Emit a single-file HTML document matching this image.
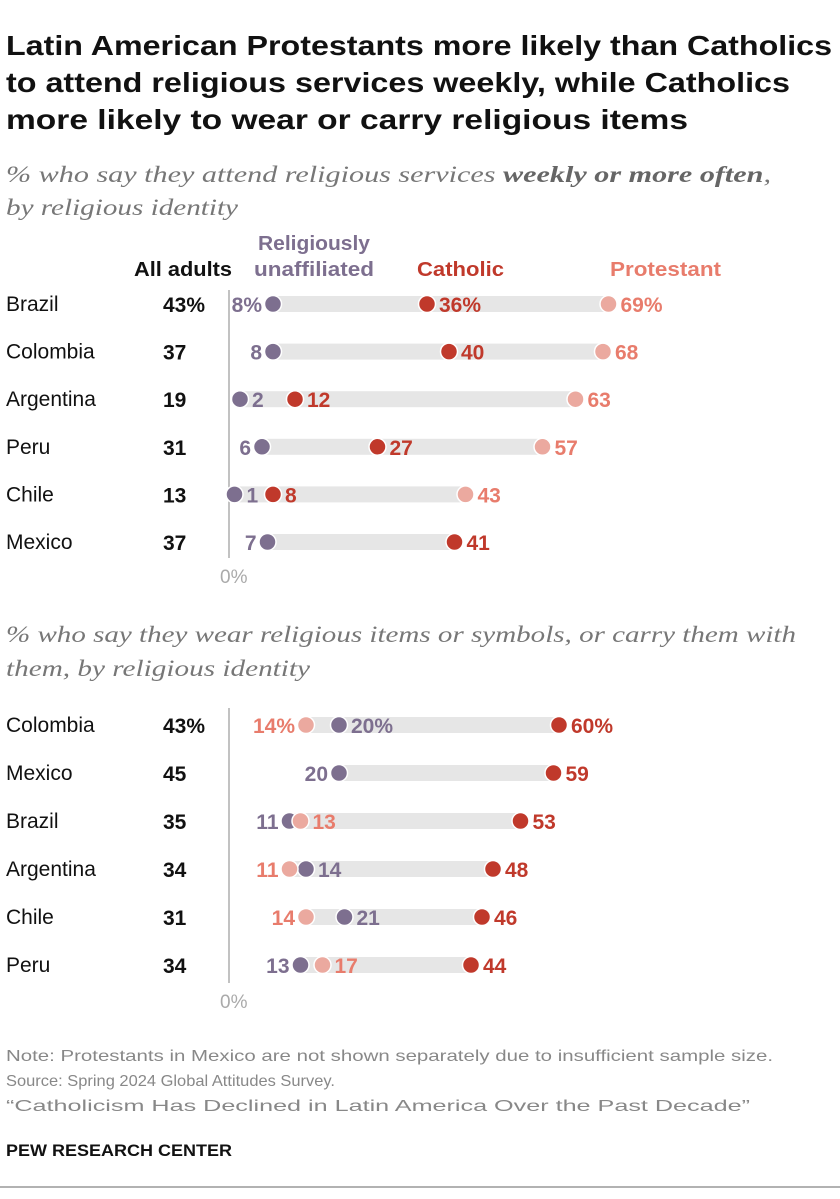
<!DOCTYPE html>
<html><head><meta charset="utf-8">
<style>
body{margin:0;background:#fff;width:840px;height:1194px;overflow:hidden;font-family:"Liberation Sans",sans-serif;}
svg text{font-family:"Liberation Sans",sans-serif;}
svg text.serif{font-family:"Liberation Serif",serif;}
</style></head>
<body>
<svg id="chart" width="840" height="1194" xmlns="http://www.w3.org/2000/svg">
<text x="6" y="55" font-size="28" font-weight="bold" fill="#111" textLength="826" lengthAdjust="spacingAndGlyphs">Latin American Protestants more likely than Catholics</text>
<text x="6" y="92" font-size="28" font-weight="bold" fill="#111" textLength="784" lengthAdjust="spacingAndGlyphs">to attend religious services weekly, while Catholics</text>
<text x="6" y="129" font-size="28" font-weight="bold" fill="#111" textLength="682" lengthAdjust="spacingAndGlyphs">more likely to wear or carry religious items</text>
<text class="serif" x="6" y="182" font-size="23" font-style="italic" fill="#777" textLength="765" lengthAdjust="spacingAndGlyphs">% who say they attend religious services <tspan font-weight="bold" fill="#666">weekly or more often</tspan>,</text>
<text class="serif" x="6" y="215" font-size="23" font-style="italic" fill="#777" textLength="232" lengthAdjust="spacingAndGlyphs">by religious identity</text>
<text x="134" y="276" font-size="20" font-weight="bold" fill="#111" textLength="98" lengthAdjust="spacingAndGlyphs">All adults</text>
<text x="258" y="250" font-size="20" font-weight="bold" fill="#7d6f8f" textLength="112" lengthAdjust="spacingAndGlyphs">Religiously</text>
<text x="254" y="276" font-size="20" font-weight="bold" fill="#7d6f8f" textLength="120" lengthAdjust="spacingAndGlyphs">unaffiliated</text>
<text x="417" y="276" font-size="20" font-weight="bold" fill="#c0392b" textLength="87" lengthAdjust="spacingAndGlyphs">Catholic</text>
<text x="610" y="276" font-size="20" font-weight="bold" fill="#e87c6c" textLength="111" lengthAdjust="spacingAndGlyphs">Protestant</text>
<text class="serif" x="6" y="642" font-size="23" font-style="italic" fill="#777" textLength="790" lengthAdjust="spacingAndGlyphs">% who say they wear religious items or symbols, or carry them with</text>
<text class="serif" x="6" y="676" font-size="23" font-style="italic" fill="#777" textLength="304" lengthAdjust="spacingAndGlyphs">them, by religious identity</text>
<g id="plots"></g>
<text x="6" y="1061" font-size="16" fill="#888" textLength="767" lengthAdjust="spacingAndGlyphs">Note: Protestants in Mexico are not shown separately due to insufficient sample size.</text>
<text x="6" y="1086" font-size="16" fill="#888" textLength="329" lengthAdjust="spacingAndGlyphs">Source: Spring 2024 Global Attitudes Survey.</text>
<text x="6" y="1111" font-size="16" fill="#888" textLength="744" lengthAdjust="spacingAndGlyphs">“Catholicism Has Declined in Latin America Over the Past Decade”</text>
<text x="6" y="1156" font-size="17" font-weight="bold" fill="#111" textLength="226" lengthAdjust="spacingAndGlyphs">PEW RESEARCH CENTER</text>
<line x1="0" y1="1187" x2="840" y2="1187" stroke="#999" stroke-width="1.5"/>
</svg>
<script>
const countries1=["Brazil","Colombia","Argentina","Peru","Chile","Mexico"];
const allAdults1=[43,37,19,31,13,37];
const unaff1=[8,8,2,6,1,7];
const cath1=[36,40,12,27,8,41];
const prot1=[69,68,63,57,43,null];
const countries2=["Colombia","Mexico","Brazil","Argentina","Chile","Peru"];
const allAdults2=[43,45,35,34,31,34];
const unaff2=[20,20,11,14,21,13];
const cath2=[60,59,53,48,46,44];
const prot2=[14,null,13,11,14,17];
const NS="http://www.w3.org/2000/svg";
const g=document.getElementById('plots');
const X0=229,K=5.5;
function xs(v){return X0+v*K;}
function mk(t,a){const e=document.createElementNS(NS,t);for(const k in a)e.setAttribute(k,a[k]);g.appendChild(e);return e;}
const COL={u:"#7d6f8f",c:"#c0392b",p:"#eba99f"};
const TCOL={u:"#7d6f8f",c:"#c0392b",p:"#e87c6c"};
function draw(countries,all,u,c,p,y0,dy,ci,axTop,axBot){
  const ax=mk('line',{x1:X0,y1:axTop,x2:X0,y2:axBot,stroke:'#999','stroke-width':1.2});
  
  
  const zt=mk('text',{x:X0-9,y:axBot+25,'font-size':19,fill:'#aaa'});zt.textContent='0%';
  
  
  countries.forEach((name,i)=>{
    const y=y0+i*dy;
    const lab=mk('text',{x:6,y:y+7,'font-size':21,fill:'#111'});lab.textContent=name;
    
    
    const at=mk('text',{x:163,y:y+8,'font-size':21,'font-weight':'bold',fill:'#111'});at.textContent=all[i]+(i===0?'%':'');
    
    
    const pts=[['u',u[i]],['c',c[i]],['p',p[i]]].filter(d=>d[1]!=null);
    const vals=pts.map(d=>d[1]);const mn=Math.min(...vals),mx=Math.max(...vals);
    const bar=mk('rect',{x:xs(mn),y:y-8,width:xs(mx)-xs(mn),height:16,fill:'#e6e6e6'});
    
    
    pts.forEach(([k,v])=>{
      const cx=xs(v);
      const d=mk('circle',{cx:cx,cy:y,r:8.5,fill:COL[k],stroke:'#fff','stroke-width':1.5});
      
      
      const left=(v===mn&&v>=5&&pts.filter(q=>q[1]===mn).length===1);
      const t=mk('text',{x:left?cx-11:cx+12,y:y+8,'font-size':21,'font-weight':'bold',fill:TCOL[k],'text-anchor':left?'end':'start'});
      t.textContent=v+(i===0?'%':'');
      
      
    });
  });
}
draw(countries1,allAdults1,unaff1,cath1,prot1,304,47.6,1,290,558);
draw(countries2,allAdults2,unaff2,cath2,prot2,725,48,2,708,983);
</script>
</body></html>
